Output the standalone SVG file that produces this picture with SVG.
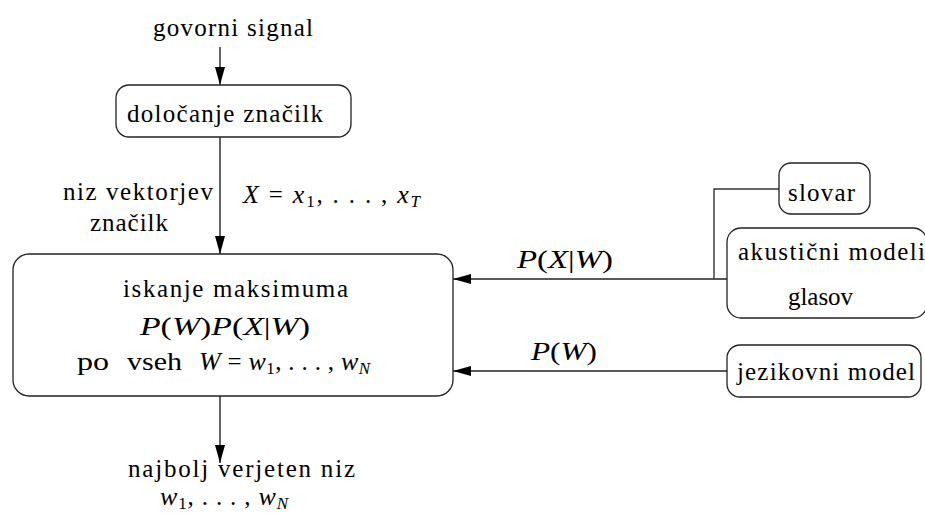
<svg xmlns="http://www.w3.org/2000/svg" width="925" height="521" viewBox="0 0 925 521">
  <style>
    .box { fill: #ffffff; stroke: #222; stroke-width: 1.3; }
    .wire { fill: none; stroke: #333; stroke-width: 1.4; }
    .arrow { fill: none; stroke: #222; stroke-width: 1.4; marker-end: url(#head); }
    text { font-family: "Liberation Serif", "DejaVu Serif", serif; font-size: 25px; fill: #000; }
    .m { font-style: italic; font-size: 26px; }
    .r { font-style: normal; }
    .sub { font-size: 17px; }
  </style>
  <defs>
    <marker id="head" markerUnits="userSpaceOnUse" markerWidth="20" markerHeight="12" refX="18" refY="5" orient="auto">
      <path d="M0,0 L18,5 L0,10 Z" fill="#000"/>
    </marker>
  </defs>

  <rect width="925" height="521" fill="#ffffff"/>

  <!-- connectors -->
  <g id="connectors">
    <line class="arrow" x1="220" y1="47" x2="220" y2="85"/>
    <line class="arrow" x1="220" y1="137" x2="220" y2="254"/>
    <line class="arrow" x1="220" y1="396" x2="220" y2="463"/>
    <polyline class="wire" points="779,189 714,189 714,279"/>
    <line class="arrow" x1="727" y1="279" x2="453" y2="279"/>
    <line class="arrow" x1="727" y1="371" x2="453" y2="371"/>
    <text class="m" x="517" y="268" textLength="96" lengthAdjust="spacingAndGlyphs">P<tspan class="r">(</tspan>X<tspan class="r">|</tspan>W<tspan class="r">)</tspan></text>
    <text class="m" x="531" y="360" textLength="66" lengthAdjust="spacingAndGlyphs">P<tspan class="r">(</tspan>W<tspan class="r">)</tspan></text>
  </g>

  <!-- input -->
  <g id="input">
    <text x="153" y="36" textLength="160">govorni signal</text>
  </g>

  <!-- feature extraction -->
  <g id="features">
    <rect class="box" x="116" y="85" width="235" height="52" rx="13"/>
    <text x="127" y="122" textLength="196">določanje značilk</text>
  </g>

  <!-- feature vector labels -->
  <g id="vectors">
    <text x="63" y="200" textLength="150">niz vektorjev</text>
    <text x="90" y="231" textLength="78">značilk</text>
    <text x="243" y="203" textLength="177"><tspan class="m">X</tspan>&#160;=&#160;<tspan class="m">x</tspan><tspan class="sub" dy="4">1</tspan><tspan dy="-4">,&#160;.&#160;.&#160;.&#160;,&#160;</tspan><tspan class="m">x</tspan><tspan class="sub m" dy="4">T</tspan></text>
  </g>

  <!-- search -->
  <g id="search">
    <rect class="box" x="13" y="254" width="440" height="142" rx="16"/>
    <text x="123" y="297" textLength="225">iskanje maksimuma</text>
    <text class="m" x="140" y="335" textLength="170" lengthAdjust="spacingAndGlyphs">P<tspan class="r">(</tspan>W<tspan class="r">)</tspan>P<tspan class="r">(</tspan>X<tspan class="r">|</tspan>W<tspan class="r">)</tspan></text>
    <text x="77" y="370" textLength="32" lengthAdjust="spacingAndGlyphs">po</text>
    <text x="127" y="370" textLength="55" lengthAdjust="spacingAndGlyphs">vseh</text>
    <text x="199" y="370" textLength="171"><tspan class="m">W</tspan>&#160;=&#160;<tspan class="m">w</tspan><tspan class="sub" dy="4">1</tspan><tspan dy="-4">,&#160;.&#160;.&#160;.&#160;,&#160;</tspan><tspan class="m">w</tspan><tspan class="sub m" dy="4">N</tspan></text>
  </g>

  <!-- lexicon -->
  <g id="lexicon">
    <rect class="box" x="779" y="163" width="91" height="51" rx="12"/>
    <text x="788" y="201" textLength="67">slovar</text>
  </g>

  <!-- acoustic models -->
  <g id="acoustic">
    <rect class="box" x="727" y="228" width="200" height="90" rx="14"/>
    <text x="738" y="260" textLength="187">akustični modeli</text>
    <text x="788" y="305" textLength="65">glasov</text>
  </g>

  <!-- language model -->
  <g id="language">
    <rect class="box" x="727" y="345" width="194" height="52" rx="13"/>
    <text x="737" y="380" textLength="178">jezikovni model</text>
  </g>

  <!-- output -->
  <g id="output">
    <text x="128" y="477" textLength="227">najbolj verjeten niz</text>
    <text x="160" y="505" textLength="128"><tspan class="m">w</tspan><tspan class="sub" dy="4">1</tspan><tspan dy="-4">,&#160;.&#160;.&#160;.&#160;,&#160;</tspan><tspan class="m">w</tspan><tspan class="sub m" dy="4">N</tspan></text>
  </g>
</svg>
